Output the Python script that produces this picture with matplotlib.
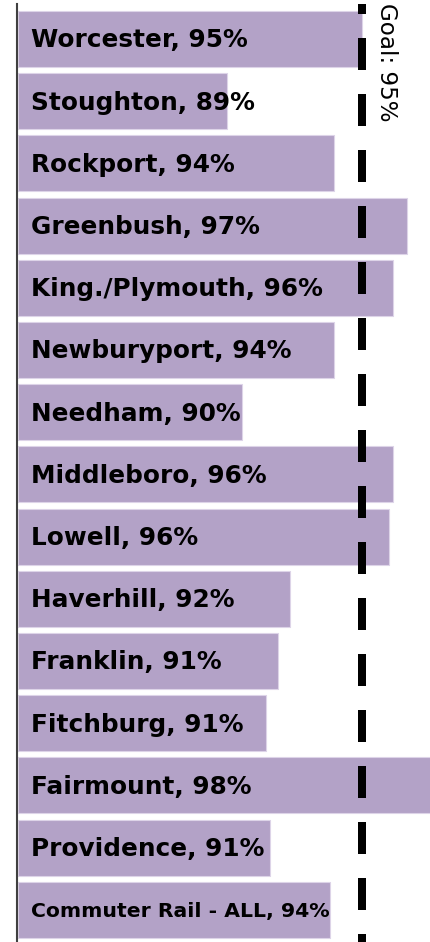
import matplotlib
matplotlib.use("Agg")
import matplotlib.pyplot as plt

# on-time performance by commuter rail line
lines = ["Worcester", "Stoughton", "Rockport", "Greenbush", "King./Plymouth",
         "Newburyport", "Needham", "Middleboro", "Lowell", "Haverhill",
         "Franklin", "Fitchburg", "Fairmount", "Providence", "Commuter Rail - ALL"]
pct_labels = ["95%", "89%", "94%", "97%", "96%", "94%", "90%", "96%", "96%",
              "92%", "91%", "91%", "98%", "91%", "94%"]
values = [94.97, 89.10, 93.77, 96.92, 96.31, 93.77, 89.76, 96.31, 96.14,
          91.85, 91.34, 90.82, 98.3, 90.98, 93.59]
goal = 95

W, H = 431, 942
fig = plt.figure(figsize=(W / 100, H / 100), dpi=100)
ax = fig.add_axes([17.5 / W, 0, 1 - 17.5 / W, 938 / H])

pos = list(range(len(lines)))
ax.barh(pos, [v - 80 for v in values], left=80, height=0.9,
        color="#b3a2c7", edgecolor="#ddd4e8", linewidth=0.8, zorder=1)

ax.set_xlim(80, 97.98)
ax.set_ylim(14.518, -0.563)

for i, (name, p) in enumerate(zip(lines, pct_labels)):
    size = 14.7 if i == len(lines) - 1 else 17.8
    ax.annotate("{}, {}".format(name, p), xy=(0, i),
                xycoords=("axes fraction", "data"),
                xytext=(9.7, -1), textcoords="offset points",
                ha="left", va="center", fontsize=size, fontweight="bold",
                color="black", zorder=3)

# goal line
ax.plot([goal, goal], [-0.563, 14.518], color="black", linewidth=5.76,
        linestyle=(2.75, (4, 3)), solid_capstyle="butt", dash_capstyle="butt",
        clip_on=False, zorder=4)
ax.annotate("Goal: 95%", xy=(goal, -0.563), xytext=(17, 1),
            textcoords="offset points", rotation=270, ha="center", va="top",
            fontsize=16.6, color="black", annotation_clip=False)

for s in ["top", "right", "bottom"]:
    ax.spines[s].set_visible(False)
ax.spines["left"].set_color("#404040")
ax.spines["left"].set_linewidth(1.5)
ax.set_xticks([])
ax.set_yticks([])

fig.savefig("out.png", dpi=100)
